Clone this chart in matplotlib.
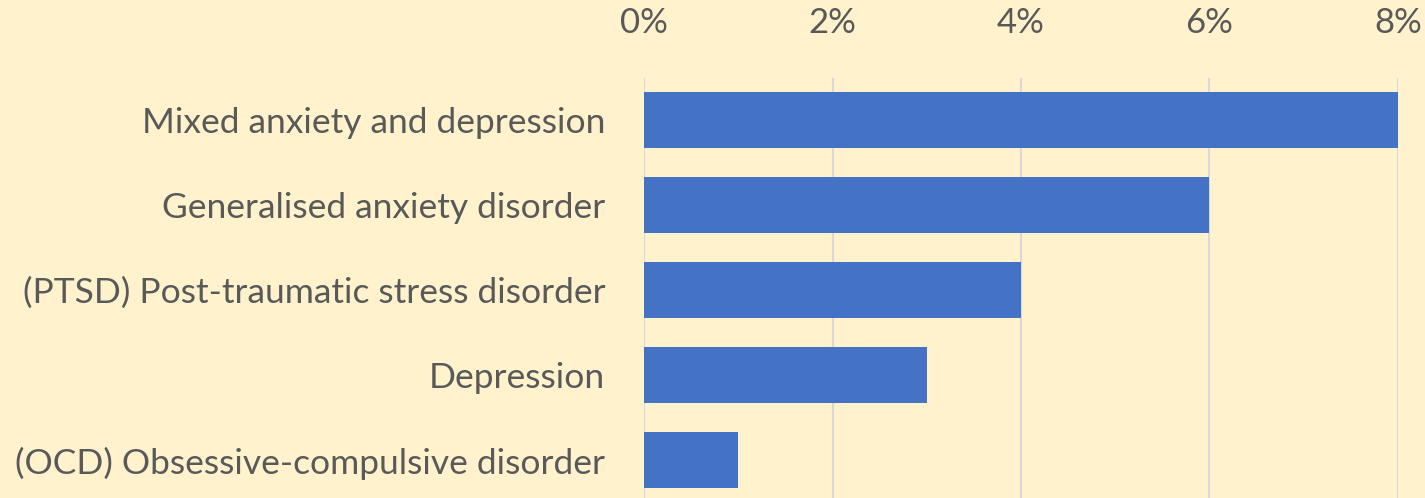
import matplotlib
matplotlib.use('Agg')
import matplotlib.pyplot as plt
from matplotlib.ticker import FuncFormatter

categories = [
    'Mixed anxiety and depression',
    'Generalised anxiety disorder',
    '(PTSD) Post-traumatic stress disorder',
    'Depression',
    '(OCD) Obsessive-compulsive disorder',
]
values = [8.0, 6.0, 4.0, 3.0, 1.0]
x_ticks = [0, 2, 4, 6, 8]

plt.rcParams['font.family'] = ['Lato', 'DejaVu Sans']

bg = '#FFF2CC'
text_col = '#595959'

fig = plt.figure(figsize=(14.25, 4.98), dpi=100, facecolor=bg)
ax = fig.add_axes([0.452, -0.009, 0.529, 0.853], facecolor=bg)

y = list(range(len(categories)))
ax.barh(y, values, height=0.66, color='#4472C4', zorder=3)

ax.set_ylim(len(categories) - 0.5, -0.5)
ax.set_xlim(0, 8)
ax.set_xticks(x_ticks)
ax.xaxis.set_major_formatter(FuncFormatter(lambda v, p: f'{v:.0f}%'))
ax.xaxis.tick_top()
ax.set_yticks(y)
ax.set_yticklabels(categories)

ax.tick_params(axis='x', length=0, pad=28, labelsize=25, labelcolor=text_col)
ax.tick_params(axis='y', length=0, pad=28, labelsize=25.5, labelcolor=text_col)

ax.grid(axis='x', color='#D9D9D9', linewidth=1.5, zorder=0)
for s in ax.spines.values():
    s.set_visible(False)

fig.savefig('out.png', dpi=100, facecolor=bg)
